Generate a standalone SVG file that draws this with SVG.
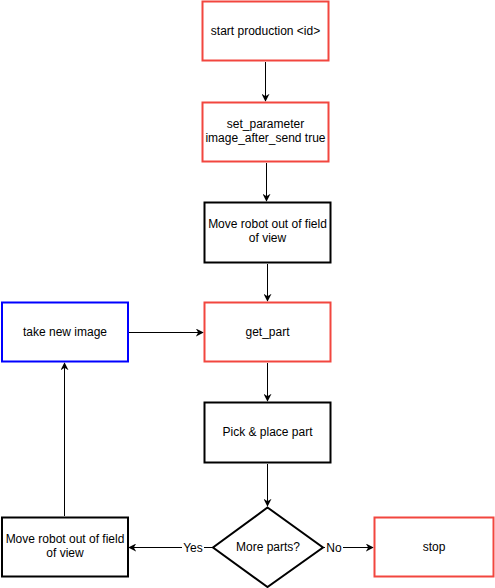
<svg xmlns="http://www.w3.org/2000/svg" width="495" height="588" viewBox="0 0 495 588">
<style>
.b{fill:#fff;stroke-width:2}
.r{stroke:#f2463f}
.k{stroke:#000}
.u{stroke:#0000ff}
text{font-family:"Liberation Sans",Arial,sans-serif;font-size:12px;fill:#000;text-anchor:middle}
.c{fill:none;stroke:#000;stroke-width:1}
.lb{fill:#fff}
</style>
<defs>
<marker id="a" viewBox="0 0 10 10" refX="9" refY="5" markerWidth="8" markerHeight="8" markerUnits="userSpaceOnUse" orient="auto">
<path d="M0,0 L10,5 L0,10 L3,5 Z" fill="#000"/>
</marker>
</defs>
<rect width="495" height="588" fill="#fff"/>
<g id="connectors">
<path class="c" d="M265.5,62 V101" marker-end="url(#a)"/>
<path class="c" d="M266.5,163 V201" marker-end="url(#a)"/>
<path class="c" d="M267.5,264 V301" marker-end="url(#a)"/>
<path class="c" d="M129,332.5 H203" marker-end="url(#a)"/>
<path class="c" d="M267.5,363 V401" marker-end="url(#a)"/>
<path class="c" d="M267.5,464 V506" marker-end="url(#a)"/>
<path class="c" d="M213,547.5 H129" marker-end="url(#a)"/>
<path class="c" d="M323,547.5 H373" marker-end="url(#a)"/>
<path class="c" d="M64.5,516 V363" marker-end="url(#a)"/>
<rect class="lb" x="182" y="540" width="22" height="14"/>
<text x="193" y="551.5">Yes</text>
<rect class="lb" x="325" y="540" width="18" height="14"/>
<text x="334" y="551.5">No</text>
</g>
<g id="start">
<rect class="b r" x="202.5" y="1.5" width="126" height="59"/>
<text x="265.5" y="35">start production &lt;id&gt;</text>
</g>
<g id="setparam">
<rect class="b r" x="202.5" y="102.5" width="126" height="59"/>
<text x="265.5" y="128">set_parameter</text>
<text x="265.5" y="142">image_after_send true</text>
</g>
<g id="move1">
<rect class="b k" x="204.5" y="202.5" width="126" height="60"/>
<text x="267.5" y="228">Move robot out of field</text>
<text x="267.5" y="242">of view</text>
</g>
<g id="getpart">
<rect class="b r" x="204.5" y="302.5" width="126" height="59"/>
<text x="267.5" y="336">get_part</text>
</g>
<g id="takeimage">
<rect class="b u" x="2" y="302.5" width="126" height="59"/>
<text x="65" y="336">take new image</text>
</g>
<g id="pick">
<rect class="b k" x="204.5" y="402.5" width="126" height="60"/>
<text x="267.5" y="436">Pick &amp; place part</text>
</g>
<g id="decision">
<path class="b k" d="M267.5,507.5 L323,547.5 L267.5,587 L213,547.5 Z"/>
<text x="268" y="551">More parts?</text>
</g>
<g id="move2">
<rect class="b k" x="2" y="517.5" width="126" height="59"/>
<text x="65" y="543">Move robot out of field</text>
<text x="65" y="557">of view</text>
</g>
<g id="stop">
<rect class="b r" x="374.5" y="517.5" width="119" height="59"/>
<text x="434" y="551">stop</text>
</g>
</svg>
